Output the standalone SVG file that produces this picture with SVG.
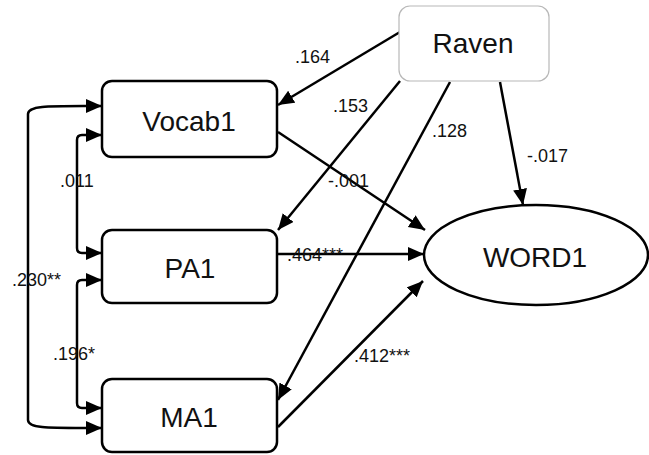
<svg xmlns="http://www.w3.org/2000/svg" width="649" height="455" viewBox="0 0 649 455">
<style>
.box{fill:#fff;stroke:#000;stroke-width:2.5}
.rv{fill:#fff;stroke:#b8b8b8;stroke-width:1.2}
.nt{font-family:"Liberation Sans",Arial,sans-serif;font-size:28px;text-anchor:middle;fill:#111}
.lb{font-family:"Liberation Sans",Arial,sans-serif;font-size:18px;fill:#111}
.ln{fill:none;stroke:#000;stroke-width:2.5;marker-end:url(#ah)}
.cv{fill:none;stroke:#000;stroke-width:2.5;marker-start:url(#ah);marker-end:url(#ah)}
</style>
<defs>
<marker id="ah" markerUnits="userSpaceOnUse" markerWidth="18" markerHeight="15" refX="16" refY="7" orient="auto-start-reverse">
<path d="M0,0 L16,7 L0,14 Z" fill="#000"/>
</marker>
</defs>
<rect width="649" height="455" fill="#fff"/>
<g id="connectors">
<path class="ln" d="M400,32 L278,105"/>
<path class="ln" d="M400,81 L278,230"/>
<path class="ln" d="M450,82 L278,400"/>
<path class="ln" d="M500,82 L523,205"/>
<path class="ln" d="M278,132 L425,230"/>
<path class="ln" d="M278,254 L424,254"/>
<path class="ln" d="M278,427 L423,281"/>
<path class="cv" d="M102,135 H82 Q77,135 77,140 V248 Q77,253 82,253 H102"/>
<path class="cv" d="M102,280 H82 Q77,280 77,285 V403 Q77,408 82,408 H102"/>
<path class="cv" d="M102,106 C50,106 28,105 28,114 V420 C28,429 50,428 102,428"/>
</g>
<g id="raven"><rect class="rv" x="399" y="6" width="150" height="75" rx="11"/><text class="nt" x="473" y="53">Raven</text></g>
<g id="vocab1"><rect class="box" x="102" y="81" width="175" height="76" rx="10"/><text class="nt" x="189" y="131">Vocab1</text></g>
<g id="pa1"><rect class="box" x="102" y="230" width="175" height="73" rx="10"/><text class="nt" x="190" y="278">PA1</text></g>
<g id="ma1"><rect class="box" x="102" y="379" width="175" height="73" rx="10"/><text class="nt" x="189" y="427">MA1</text></g>
<g id="word1"><ellipse class="box" cx="536" cy="255" rx="112" ry="50"/><text class="nt" x="535" y="267">WORD1</text></g>
<g id="labels">
<text class="lb" x="295" y="63">.164</text>
<text class="lb" x="333" y="112">.153</text>
<text class="lb" x="432" y="137">.128</text>
<text class="lb" x="527" y="162">-.017</text>
<text class="lb" x="328" y="187">-.001</text>
<text class="lb" x="60" y="187">.011</text>
<text class="lb" x="12" y="286">.230**</text>
<text class="lb" x="53" y="360">.196*</text>
<text class="lb" x="287" y="261">.464***</text>
<text class="lb" x="354" y="362">.412***</text>
</g>
</svg>
